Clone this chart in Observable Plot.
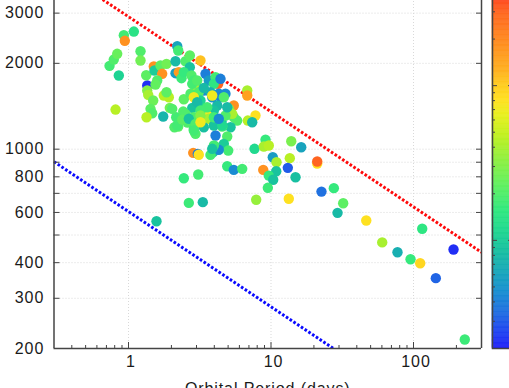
<!DOCTYPE html>
<html><head><meta charset="utf-8">
<script src="https://cdn.jsdelivr.net/npm/d3@7"></script>
<script src="https://cdn.jsdelivr.net/npm/@observablehq/plot@0.6"></script>
<style>
html,body{margin:0;padding:0;width:509px;height:388px;overflow:hidden;background:#fff;}
#wrap{position:relative;width:509px;height:388px;overflow:hidden;}
#main{position:absolute;left:0;top:-23px;width:509px;}
#cbar{position:absolute;left:490px;top:-23px;width:60px;}
svg{max-width:none !important;}
</style></head><body><div id="wrap"><div id="main"></div><div id="cbar"></div></div>
<script>
// ---- data ----
const period = [4.26,3.58,0.736,0.788,0.833,0.855,0.927,0.942,1.09,1.214,1.214,0.811,1.353,1.331,1.505,1.522,1.677,1.848,1.723,1.59,1.547,1.353,1.375,1.49,1.769,1.918,1.848,1.427,1.466,1.338,1.752,1.949,2.102,1.572,
2.197,2.233,2.137,2.137,2.254,2.355,2.511,2.693,2.693,2.444,3.2,2.768,2.872,2.951,2.444,2.161,2.233,2.42,2.723,2.8,
3.47,3.66,4.08,3.97,4.42,3.376,3.76,4.302,4.79,3.113,6.81,6.81,5.48,7.78,6.875,4.42,4.194,5.058,5.48,5.79,5.2,4.546,3.97,4.08,4.928,4.665,4.034,5.009,3.93,4.302,3.76,4.928,5.48,6.28,7.66,2.845,3.064,3.113,2.444,3.084,
3.2,3.868,2.026,3.29,3.47,3.97,5.343,2.594,3.034,3.567,3.66,4.494,4.79,2.197,2.872,3.376,3.97,4.546,2.951,3.97,3.868,
2.8,3.034,3.376,3.868,2.872,3.034,3.567,3.2,2.872,3.2,3.97,4.302,2.511,2.382,2.649,2.951,2.872,3.2,4.665,4.928,
7.38,9.15,8.9,9.65,13.87,16.29,10.29,10.93,13.55,13.12,21.1,21.1,8.82,10.88,9.65,10.36,14.86,9.5,7.87,13.33,22.6,27.6,32.1,29.3,46.6,60.3,77.2,95.3,111.4,115.1,190.9,143.4,229,2.649,3.322];
const tempK = [1695,1377,1960,2062,2160,1813,2509,2399,2585,2205,2046,1377,1672,1817,1949,1887,1965,1992,1838,1741,1686,1606,1551,1482,1543,1521,1584,1385,1337,1294,1302,1396,1194,559,
2296,2218,2034,1847,1862,1774,2034,2130,1938,1862,2046,1813,1741,1649,1497,1294,1201,1355,1564,1396,
1838,1741,1788,1695,1765,1606,1584,1564,1564,1584,1606,1543,1423,1313,1260,1521,1423,1385,1294,1260,1194,1201,1227,1117,1108,1044,1024,989,976,995,955,871,846,853,1003,971,963,956,791,815,
1482,1521,1385,1403,1330,1367,1330,1240,1294,1313,1278,1250,1313,1211,1178,1194,1211,1211,1132,1030,1003,
1695,1741,1641,1543,1521,1461,1403,1367,1294,1313,1294,1278,1330,1270,1278,1227,1163,1243,1521,1403,
1243,1079,1022,1030,1066,1016,937,900,930,860,891,905,846,837,808,781,797,732,665,670,710,730,646,598,562,471,435,411,398,526,445,353,215,648,652];
const colorVal = [30,22,1.8,2.0,2.4,1.1,1.8,18,1.4,2.0,2.6,4.5,0.22,2.2,18,1.0,2.2,2.6,18,2.0,2.3,3,4,2.5,4.5,4.5,2.2,2.2,2.0,4.5,0.75,2.6,2.0,0.9,
0.6,1.8,0.8,0.55,16,1.7,2.0,2.2,0.9,1.6,11,2.0,1.8,4,2.2,1.8,2.2,2.0,2.0,0.9,
0.4,0.55,1.8,1.5,0.4,0.45,0.7,0.45,0.45,2.0,4,15,18,8,4.5,0.4,0.8,3,2.0,2.0,0.9,2.0,1.0,0.4,2.0,1.0,1.6,1.8,1.0,0.45,1.8,1.6,0.45,1.8,1.2,18,0.4,8,1.6,1.8,
1.1,0.5,2.0,1.2,1.8,0.9,4,2.0,2.2,7,4,0.8,2.0,1.8,1.8,0.85,0.9,1.2,2.0,1.8,0.9,
1.8,2.0,0.8,7,7,0.8,1.8,1.8,2.0,3,1.8,0.45,2.0,2.2,0.9,2.0,1.8,7,2.0,0.8,
0.8,1.6,4,4.5,2.8,0.6,0.55,4,4.5,0.3,8,30,18,0.9,1.6,0.9,0.85,1.7,3.5,8,0.35,1.6,2.2,0.8,8,4,0.7,1.6,9,1.5,0.22,0.32,1.7,1.7,0.8];

const redLineP = [0.3, 300];
const redLineT = [4355, 435];
const blueLineP = [0.3, 300];
const blueLineT = [904, 90];

const xTickLabels = [1, 10, 100];
const xMinorTicks = [0.4,0.5,0.6,0.7,0.8,0.9,2,3,4,5,6,7,8,9,20,30,40,50,60,70,80,90,200];
const yTickValues = [300,400,500,600,700,800,900,1000,2000,3000];
const yTickLabels = [200,300,400,600,800,1000,2000,3000];
const cbMajor = [1, 10];
const cbMinor = [0.3,0.4,0.5,0.6,0.7,0.8,0.9,2,3,4,5,6,7,8,9,20,30,40];
const xTitle = "Orbital Period (days)";

// ---- palette (colour box of the reference) ----
const stopT = [0,0.05,0.10,0.155,0.21,0.265,0.32,0.37,0.44,0.51,0.575,0.63,0.67,0.71,0.75,0.83,0.90,0.94,1];
const stopC = ["#2020f8","#2048f0","#2070e0","#1890d0","#18a8b8","#18c0a0","#20d890","#30e880","#60f060","#90f040","#c0f020","#e8f020","#ffe020","#ffcc20","#ffb020","#ff8a20","#ff6a20","#ff4a20","#ff2020"];
const cmap = d3.scaleLinear().domain(stopT).range(stopC).interpolate(d3.interpolateRgb).clamp(true);
const colorScale = {type: "log", domain: [0.2, 50], interpolate: (t) => cmap(t)};

const pts = period.map((p, i) => ({p, t: tempK[i], c: colorVal[i]}));
const red = redLineP.map((p, i) => ({p, t: redLineT[i]}));
const blue = blueLineP.map((p, i) => ({p, t: blueLineT[i]}));

const axisCol = "#444";
const fontFam = "'Liberation Sans', Arial, Helvetica, sans-serif";
const fs = 16;
const gridStyle = {stroke: "#d9d9d9", strokeWidth: 1, strokeDasharray: "1,2"};
const dotted = {strokeWidth: 3, strokeDasharray: "2.6,1.9", strokeLinecap: "butt", strokeLinejoin: "miter", clip: true};
const H = 430;

const main = Plot.plot({
  width: 509, height: H,
  marginLeft: 53.5, marginRight: 28, marginTop: 0, marginBottom: H - 371,
  style: {fontFamily: fontFam, fontSize: fs + "px", letterSpacing: "0.9px", color: "#1a1a1a", background: "transparent"},
  x: {type: "log", domain: [0.3, 300], axis: null},
  y: {type: "log", domain: [200, 4000], axis: null},
  color: colorScale,
  marks: [
    Plot.ruleX(xTickLabels, gridStyle),
    Plot.ruleY(yTickValues, gridStyle),
    Plot.line(red, {x: "p", y: "t", stroke: "#ff0a0a", ...dotted}),
    Plot.line(blue, {x: "p", y: "t", stroke: "#0a0aff", ...dotted}),
    Plot.dot(pts, {x: "p", y: "t", fill: "c", r: 5.2, stroke: null}),
    Plot.ruleX([0.3, 300], {stroke: axisCol, strokeWidth: 1.5}),
    Plot.ruleY([200], {stroke: axisCol, strokeWidth: 1.5}),
    Plot.axisX(xTickLabels, {anchor: "bottom", tickSize: -6, fill: "none", label: null, stroke: axisCol}),
    Plot.axisX(xMinorTicks, {anchor: "bottom", tickSize: -3, fill: "none", label: null, stroke: axisCol}),
    Plot.axisY(yTickValues, {anchor: "left", tickSize: -6, fill: "none", label: null, stroke: axisCol}),
    Plot.axisY(yTickValues, {anchor: "right", tickSize: -6, fill: "none", label: null, stroke: axisCol}),
    Plot.text(xTickLabels, {x: d => d, text: d => String(d), frameAnchor: "bottom", dy: 18, dx: 2.5, fontSize: fs, fill: "#1a1a1a"}),
    Plot.text(yTickLabels, {y: d => d, text: d => String(d), frameAnchor: "left", textAnchor: "end", dx: -9.8, fontSize: fs, fill: "#1a1a1a"}),
    Plot.text([xTitle], {frameAnchor: "bottom", dy: 45, fontSize: fs, fill: "#1a1a1a"})
  ]
});
document.getElementById("main").appendChild(main);

// ---- colour box ----
const nBands = 300;
const lo = Math.log10(0.2), hi = Math.log10(50);
const bands = d3.range(nBands).map(i => {
  const a = lo + (hi - lo) * i / nBands, b = lo + (hi - lo) * (i + 1) / nBands;
  return {y1: 10 ** a, y2: 10 ** b, c: 10 ** ((a + b) / 2)};
});
const cb = Plot.plot({
  width: 60, height: 380,
  marginLeft: 2, marginRight: 38, marginTop: 0, marginBottom: 9,
  style: {background: "transparent"},
  x: {domain: [0, 1], axis: null},
  y: {type: "log", domain: [0.2, 50], axis: null},
  color: colorScale,
  marks: [
    Plot.rect(bands, {x1: 0, x2: 1, y1: "y1", y2: "y2", fill: "c", stroke: "c", strokeWidth: 0.6}),
    Plot.frame({stroke: axisCol, strokeWidth: 1.5}),
    Plot.axisY(cbMinor, {anchor: "left", tickSize: -3, fill: "none", label: null, stroke: axisCol}),
    Plot.axisY(cbMajor, {anchor: "left", tickSize: -5, fill: "none", label: null, stroke: axisCol}),
    Plot.axisY(cbMinor, {anchor: "right", tickSize: -3, fill: "none", label: null, stroke: axisCol}),
    Plot.axisY(cbMajor, {anchor: "right", tickSize: -5, fill: "none", label: null, stroke: axisCol})
  ]
});
document.getElementById("cbar").appendChild(cb);
</script></body></html>
